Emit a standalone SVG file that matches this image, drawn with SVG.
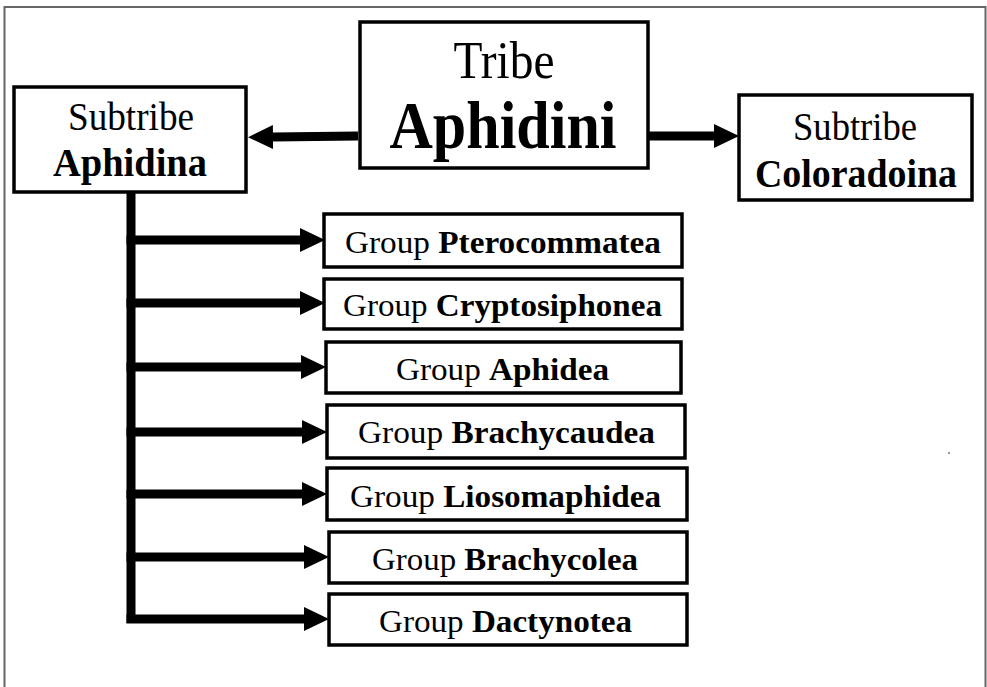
<svg xmlns="http://www.w3.org/2000/svg" width="987" height="687" viewBox="0 0 987 687">
<style>
.box{fill:#fff;stroke:#000;stroke-width:3.5}
.t{font-family:"Liberation Serif","Times New Roman",serif;fill:#000;text-anchor:middle}
.b{font-weight:bold}
.g{font-size:32px}
.conn{fill:none;stroke:#000;stroke-width:9}
</style>
<defs>
<marker id="ah" viewBox="0 0 25 24" refX="0" refY="12" markerWidth="25" markerHeight="24" markerUnits="userSpaceOnUse" orient="auto">
<path d="M0,0 L25,12 L0,24 z" fill="#000"/>
</marker>
</defs>
<rect x="0" y="0" width="987" height="687" fill="#fff"/>
<rect x="4.5" y="7" width="981" height="700" fill="none" stroke="#666" stroke-width="2"/>
<circle cx="949" cy="453" r="1" fill="#777"/>

<g id="connectors">
<path class="conn" d="M358,136 L273,137" marker-end="url(#ah)"/>
<path class="conn" d="M648,136 L714,136" marker-end="url(#ah)"/>
<path class="conn" d="M131,192 L131,623"/>
<path class="conn" d="M126.5,240 L300,240" marker-end="url(#ah)"/>
<path class="conn" d="M126.5,303 L300,303" marker-end="url(#ah)"/>
<path class="conn" d="M126.5,367 L301,367" marker-end="url(#ah)"/>
<path class="conn" d="M126.5,432 L302,432" marker-end="url(#ah)"/>
<path class="conn" d="M126.5,494 L302,494" marker-end="url(#ah)"/>
<path class="conn" d="M126.5,557 L304,557" marker-end="url(#ah)"/>
<path class="conn" d="M126.5,619 L304,619" marker-end="url(#ah)"/>
</g>

<g id="tribe">
<rect class="box" x="360" y="22" width="288" height="146"/>
<text class="t" x="504" y="78" font-size="52" textLength="101" lengthAdjust="spacingAndGlyphs">Tribe</text>
<text class="t b" x="503" y="148" font-size="67" textLength="227" lengthAdjust="spacingAndGlyphs">Aphidini</text>
</g>

<g id="aphidina">
<rect class="box" x="14" y="87" width="232" height="105"/>
<text class="t" x="131" y="130" font-size="40" textLength="126" lengthAdjust="spacingAndGlyphs">Subtribe</text>
<text class="t b" x="130" y="176" font-size="40" textLength="154" lengthAdjust="spacingAndGlyphs">Aphidina</text>
</g>

<g id="coloradoina">
<rect class="box" x="739" y="95" width="233" height="105"/>
<text class="t" x="855" y="140" font-size="40" textLength="124" lengthAdjust="spacingAndGlyphs">Subtribe</text>
<text class="t b" x="856" y="187" font-size="40" textLength="202" lengthAdjust="spacingAndGlyphs">Coloradoina</text>
</g>

<g id="pterocommatea">
<rect class="box" x="324" y="214" width="358" height="53"/>
<text class="t g" x="503" y="253" textLength="316" lengthAdjust="spacingAndGlyphs">Group <tspan class="b">Pterocommatea</tspan></text>
</g>
<g id="cryptosiphonea">
<rect class="box" x="324" y="279" width="358" height="50"/>
<text class="t g" x="502.5" y="316" textLength="319" lengthAdjust="spacingAndGlyphs">Group <tspan class="b">Cryptosiphonea</tspan></text>
</g>
<g id="aphidea">
<rect class="box" x="326" y="342" width="355" height="51"/>
<text class="t g" x="502.5" y="380" textLength="213" lengthAdjust="spacingAndGlyphs">Group <tspan class="b">Aphidea</tspan></text>
</g>
<g id="brachycaudea">
<rect class="box" x="327" y="405" width="358" height="53"/>
<text class="t g" x="506.5" y="443" textLength="297" lengthAdjust="spacingAndGlyphs">Group <tspan class="b">Brachycaudea</tspan></text>
</g>
<g id="liosomaphidea">
<rect class="box" x="327" y="468" width="360" height="52"/>
<text class="t g" x="505.5" y="507" textLength="311" lengthAdjust="spacingAndGlyphs">Group <tspan class="b">Liosomaphidea</tspan></text>
</g>
<g id="brachycolea">
<rect class="box" x="329" y="532" width="358" height="51"/>
<text class="t g" x="505" y="570" textLength="266" lengthAdjust="spacingAndGlyphs">Group <tspan class="b">Brachycolea</tspan></text>
</g>
<g id="dactynotea">
<rect class="box" x="329" y="594" width="358" height="51"/>
<text class="t g" x="505.5" y="632" textLength="253" lengthAdjust="spacingAndGlyphs">Group <tspan class="b">Dactynotea</tspan></text>
</g>
</svg>
